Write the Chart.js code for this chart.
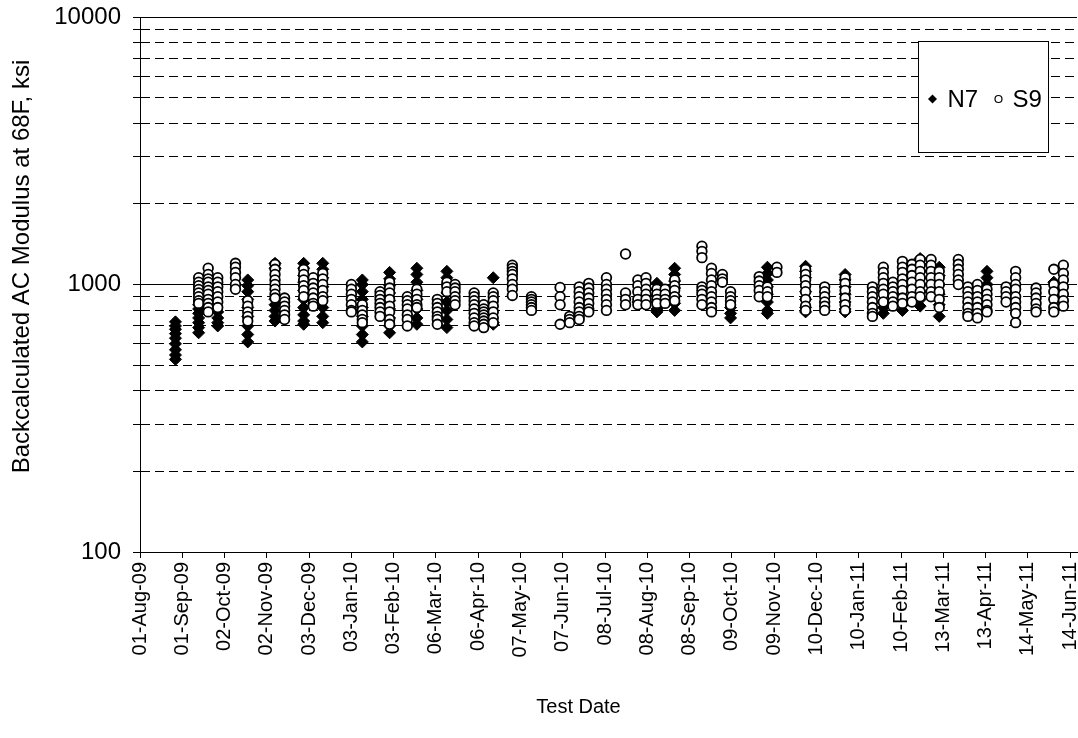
<!DOCTYPE html>
<html lang="en">
<head>
  <meta charset="UTF-8">
  <title>Backcalculated AC Modulus</title>
  <style>
    body {
      margin: 0;
      padding: 0;
      background: #ffffff;
    }
    .wrap {
      width: 1078px;
      height: 738px;
      position: relative;
    }
  </style>
</head>
<body>
  <div class="wrap">
    <canvas id="chart"></canvas>
  </div>

  <script src="https://cdn.jsdelivr.net/npm/chart.js@4"></script>
  <script>
    // x values are days counted from 01-Aug-09
    const xTickLabels = ['01-Aug-09', '01-Sep-09', '02-Oct-09', '02-Nov-09', '03-Dec-09', '03-Jan-10',
      '03-Feb-10', '06-Mar-10', '06-Apr-10', '07-May-10', '07-Jun-10', '08-Jul-10', '08-Aug-10',
      '08-Sep-10', '09-Oct-10', '09-Nov-10', '10-Dec-10', '10-Jan-11', '10-Feb-11', '13-Mar-11',
      '13-Apr-11', '14-May-11', '14-Jun-11'];
    const xTickDays = [0, 31, 62, 93, 124, 155, 186, 217, 248, 279, 310, 341, 372, 403, 434, 465,
      496, 527, 558, 589, 620, 651, 682];
    const yTickValues = [100, 200, 300, 400, 500, 600, 700, 800, 900,
      1000, 2000, 3000, 4000, 5000, 6000, 7000, 8000, 9000, 10000];

    const xTitle = 'Test Date';
    const yTitle = 'Backcalculated AC Modulus at 68F, ksi';

    // N7 section: test day and the moduli measured on that day
    const n7Days = [26, 43, 57, 79, 99, 120, 134, 163, 183, 203, 225, 259, 365, 379, 392,
      433, 460, 488, 517, 545, 559, 572, 586, 621, 670];
    const n7Values = [
      [725, 700, 680, 655, 630, 600, 570, 545, 525],
      [840, 810, 780, 750, 720, 690, 660],
      [790, 750, 720, 700],
      [1040, 990, 940, 880, 820, 760, 700, 650, 610],
      [1200, 1150, 880, 840, 800, 760, 730],
      [1200, 1150, 1080, 1020, 950, 880, 820, 770, 730, 710],
      [1200, 1140, 1060, 980, 900, 820, 760, 720],
      [1040, 1000, 940, 880, 820, 760, 700, 650, 610],
      [1110, 1050, 990, 930, 870, 810, 750, 700, 660],
      [1150, 1090, 1020, 950, 880, 810, 750, 710],
      [1120, 1060, 1000, 930, 860, 800, 740, 690],
      [1060, 720, 710],
      [860],
      [1010, 960, 910, 860, 810, 790],
      [1150, 1090, 1030, 970, 910, 850, 800],
      [820, 780, 750],
      [1160, 1100, 1040, 980, 920, 860, 800, 780],
      [1170, 1120, 1060, 1000, 940, 880, 820, 790],
      [1090, 1040, 980, 920, 860, 810, 790],
      [860, 820, 780],
      [840, 800],
      [1250, 1190, 1120, 1060, 1000, 940, 880, 830],
      [1160, 1080, 1000, 920, 840, 760],
      [1120, 1060, 1000],
      [1020]
    ];

    // S9 section
    const s9Days = [43, 50, 57, 70, 79, 99, 106, 120, 127, 134, 155, 163, 176, 183, 196, 203,
      218, 225, 231, 245, 252, 259, 273, 287, 308, 315, 322, 329, 342, 356, 365, 371, 379, 385,
      392, 412, 419, 427, 433, 454, 460, 467, 488, 502, 517, 537, 545, 552, 559, 566, 572, 580,
      586, 600, 607, 614, 621, 635, 642, 657, 670, 677];
    const s9Values = [
      [1060, 1020, 990, 958, 930, 900, 870, 850],
      [1150, 1090, 1050, 1020, 980, 950, 920, 880, 850, 820, 790],
      [1060, 1020, 980, 940, 900, 860, 820],
      [1200, 1160, 1110, 1060, 1000, 960],
      [870, 830, 790, 760, 730],
      [1190, 1140, 1090, 1040, 1000, 960, 920, 890],
      [890, 860, 830, 800, 770, 740],
      [1140, 1090, 1040, 990, 950, 900],
      [1060, 1010, 970, 930, 890, 850, 830],
      [1100, 1050, 1000, 950, 900, 870],
      [1000, 960, 920, 880, 840, 800, 790],
      [840, 800, 770, 740, 720],
      [940, 910, 880, 850, 820, 790, 760],
      [1020, 970, 930, 880, 830, 790, 740, 710],
      [900, 870, 840, 810, 770, 740, 700],
      [960, 920, 880, 840, 820],
      [880, 850, 820, 790, 760, 740, 710],
      [1020, 980, 940],
      [1000, 970, 940, 900, 870, 840],
      [930, 900, 870, 840, 810, 780, 750, 720, 700],
      [840, 810, 790, 770, 750, 730, 710, 690],
      [930, 900, 870, 830, 790, 750, 720],
      [1180, 1150, 1120, 1090, 1050, 1000, 960, 910],
      [900, 880, 860, 840, 820, 800],
      [975, 900, 840, 710],
      [760, 740, 720],
      [980, 940, 900, 860, 820, 790, 760, 740],
      [1010, 970, 930, 890, 850, 810, 790],
      [1060, 1000, 960, 920, 880, 840, 800],
      [1300, 930, 880, 840],
      [1040, 990, 940, 880, 840],
      [1060, 1010, 960, 920, 880, 840],
      [960, 920, 880, 850],
      [960, 920, 880, 850],
      [1040, 990, 950, 900, 870],
      [1390, 1330, 1260, 980, 950, 920, 880, 840],
      [1150, 1100, 1040, 990, 940, 900, 860, 820, 790],
      [1090, 1050, 1020],
      [940, 900, 870, 840],
      [1070, 1030, 990, 950, 900],
      [980, 940, 900],
      [1160, 1110],
      [1140, 1090, 1040, 990, 940, 880, 830, 800],
      [980, 940, 900, 860, 830, 800],
      [1060, 1010, 950, 890, 840, 800],
      [980, 940, 900, 860, 820, 780, 760],
      [1160, 1110, 1060, 1010, 960, 920, 860],
      [1020, 980, 940, 900, 860, 830],
      [1220, 1160, 1110, 1050, 1000, 950, 890, 850],
      [1190, 1140, 1080, 1020, 960, 900, 860],
      [1240, 1180, 1120, 1060, 1000, 940, 900],
      [1240, 1180, 1120, 1060, 1000, 940, 900],
      [1120, 1060, 1000, 940, 880, 820],
      [1240, 1190, 1140, 1090, 1040, 1000],
      [980, 940, 900, 860, 820, 780, 760],
      [1000, 950, 900, 860, 820, 780, 750],
      [960, 920, 880, 840, 800, 790],
      [980, 940, 900, 860],
      [1120, 1060, 1000, 960, 900, 860, 820, 780, 720],
      [970, 930, 890, 850, 810, 790],
      [1140, 1000, 940, 880, 820, 790],
      [1180, 1100, 1040, 980, 920, 870, 830]
    ];

    function toPoints(days, values) {
      const pts = [];
      days.forEach((d, i) => {
        values[i].forEach(v => pts.push({ x: d, y: v }));
      });
      return pts;
    }

    const FONT = 'Liberation Sans, Arial, sans-serif';
    const isDecade = v => v === 100 || v === 1000 || v === 10000;

    // axis titles, placed a little off the plot centre
    const axisTitles = {
      id: 'axisTitles',
      afterDraw(chart) {
        const ctx = chart.ctx;
        const a = chart.chartArea;
        ctx.save();
        ctx.fillStyle = '#000000';
        ctx.textAlign = 'center';
        ctx.textBaseline = 'middle';
        ctx.font = '20px ' + FONT;
        ctx.fillText(xTitle, (a.left + a.right) / 2 - 30, chart.height - 31);
        ctx.translate(22, (a.top + a.bottom) / 2 - 18);
        ctx.rotate(-Math.PI / 2);
        ctx.font = '24px ' + FONT;
        ctx.fillText(yTitle, 0, 0);
        ctx.restore();
      }
    };

    // boxed legend sitting in the upper right of the plot
    const boxedLegend = {
      id: 'boxedLegend',
      afterDraw(chart) {
        const ctx = chart.ctx;
        const area = chart.chartArea;
        const left = Math.round(area.right - 159) + 0.5;
        const top = Math.round(area.top + 24) + 0.5;
        const w = 130, h = 111;
        const cy = top + h / 2 + 2;
        ctx.save();
        ctx.fillStyle = '#ffffff';
        ctx.fillRect(left, top, w, h);
        ctx.strokeStyle = '#000000';
        ctx.lineWidth = 1;
        ctx.strokeRect(left, top, w, h);

        // N7 diamond
        ctx.fillStyle = '#000000';
        ctx.beginPath();
        ctx.moveTo(left + 14, cy - 4.5);
        ctx.lineTo(left + 18.5, cy);
        ctx.lineTo(left + 14, cy + 4.5);
        ctx.lineTo(left + 9.5, cy);
        ctx.closePath();
        ctx.fill();

        ctx.font = '24px ' + FONT;
        ctx.textBaseline = 'middle';
        ctx.fillText(chart.data.datasets[1].label, left + 29, cy + 1);

        // S9 circle
        ctx.beginPath();
        ctx.arc(left + 80, cy, 3.5, 0, Math.PI * 2);
        ctx.lineWidth = 1.2;
        ctx.stroke();
        ctx.fillText(chart.data.datasets[0].label, left + 94, cy + 1);
        ctx.restore();
      }
    };

    new Chart(document.getElementById('chart'), {
      type: 'scatter',
      data: {
        datasets: [
          {
            label: 'S9',
            data: toPoints(s9Days, s9Values),
            pointStyle: 'circle',
            pointRadius: 4.8,
            pointHoverRadius: 4.8,
            backgroundColor: '#ffffff',
            borderColor: '#000000',
            borderWidth: 1.8
          },
          {
            label: 'N7',
            data: toPoints(n7Days, n7Values),
            pointStyle: 'rectRot',
            pointRadius: 6,
            pointHoverRadius: 6,
            backgroundColor: '#000000',
            borderColor: '#000000',
            borderWidth: 1
          }
        ]
      },
      options: {
        responsive: true,
        maintainAspectRatio: false,
        animation: false,
        events: [],
        layout: { autoPadding: false, padding: { top: 17, right: 1, left: 0, bottom: 0 } },
        plugins: {
          legend: { display: false },
          tooltip: { enabled: false }
        },
        scales: {
          x: {
            type: 'linear',
            min: 0,
            max: 687,
            afterBuildTicks(scale) {
              scale.ticks = xTickDays.map(v => ({ value: v }));
            },
            afterFit(scale) {
              scale.height = 186;
              scale.paddingLeft = 0;
              scale.paddingRight = 0;
            },
            ticks: {
              autoSkip: false,
              maxRotation: 90,
              minRotation: 90,
              padding: 4,
              color: '#000000',
              font: { family: FONT, size: 20 },
              callback: (v, i) => xTickLabels[i]
            },
            grid: {
              drawOnChartArea: false,
              drawTicks: true,
              tickLength: 6,
              color: '#000000'
            },
            border: { color: '#000000', width: 1 }
          },
          y: {
            type: 'logarithmic',
            min: 100,
            max: 10000,
            afterBuildTicks(scale) {
              scale.ticks = yTickValues.map(v => ({ value: v }));
            },
            afterFit(scale) {
              scale.width = 140;
              scale.paddingTop = 0;
              scale.paddingBottom = 0;
            },
            ticks: {
              autoSkip: false,
              padding: 12,
              color: '#000000',
              font: { family: FONT, size: 24 },
              callback: v => isDecade(v) ? String(v) : ''
            },
            grid: {
              drawTicks: true,
              tickLength: 7,
              lineWidth: 1,
              color: '#000000'
            },
            border: {
              color: '#000000',
              width: 1,
              dash: ctx => (ctx.tick && !isDecade(ctx.tick.value)) ? [9, 5] : []
            }
          }
        }
      },
      plugins: [axisTitles, boxedLegend]
    });
  </script>
</body>
</html>
